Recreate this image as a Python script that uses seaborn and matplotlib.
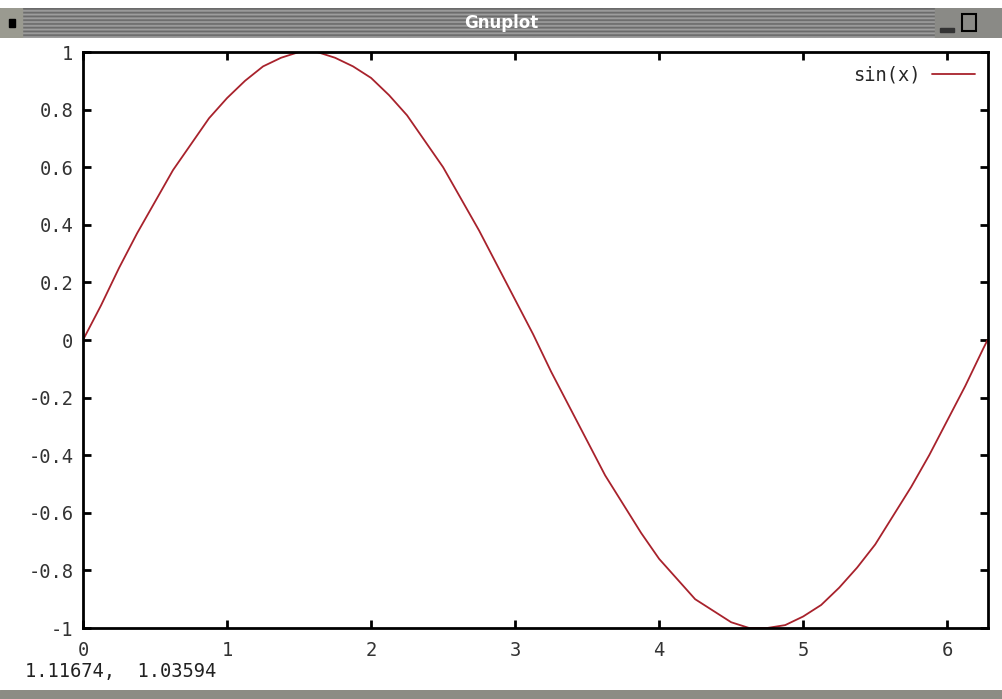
import numpy as np
import pandas as pd
import matplotlib
matplotlib.use("Agg")
import matplotlib.pyplot as plt
import seaborn as sns
from matplotlib.patches import Rectangle

# values
x_vals = [0.0, 0.125, 0.25, 0.375, 0.5, 0.625, 0.75, 0.875, 1.0, 1.125, 1.25, 1.375,
          1.5, 1.625, 1.75, 1.875, 2.0, 2.125, 2.25, 2.375, 2.5, 2.625, 2.75, 2.875,
          3.0, 3.125, 3.25, 3.375, 3.5, 3.625, 3.75, 3.875, 4.0, 4.125, 4.25, 4.375,
          4.5, 4.625, 4.75, 4.875, 5.0, 5.125, 5.25, 5.375, 5.5, 5.625, 5.75, 5.875,
          6.0, 6.125, 6.25, 6.28]
y_vals = [0.0, 0.12, 0.25, 0.37, 0.48, 0.59, 0.68, 0.77, 0.84, 0.9, 0.95, 0.98,
          1.0, 1.0, 0.98, 0.95, 0.91, 0.85, 0.78, 0.69, 0.6, 0.49, 0.38, 0.26,
          0.14, 0.02, -0.11, -0.23, -0.35, -0.47, -0.57, -0.67, -0.76, -0.83, -0.9, -0.94,
          -0.98, -1.0, -1.0, -0.99, -0.96, -0.92, -0.86, -0.79, -0.71, -0.61, -0.51, -0.4,
          -0.28, -0.16, -0.03, 0.0]
x_ticks = [0, 1, 2, 3, 4, 5, 6]
y_ticks = [-1, -0.8, -0.6, -0.4, -0.2, 0, 0.2, 0.4, 0.6, 0.8, 1]
y_tick_labels = ['-1', '-0.8', '-0.6', '-0.4', '-0.2', '0', '0.2', '0.4', '0.6', '0.8', '1']
series_name = 'sin(x)'
status_text = '1.11674,  1.03594'

df = pd.DataFrame({'x': x_vals, 'y': y_vals, 'series': series_name})

sns.set_style("ticks")
plt.rcParams['font.family'] = ['DejaVu Sans Mono']
plt.rcParams['axes.unicode_minus'] = False

W, H = 1003, 699
fig = plt.figure(figsize=(W / 100, H / 100), dpi=100)
fig.patch.set_facecolor('white')

# window title bar
bar = fig.add_axes([0, 1 - 38 / H, 1, 30 / H])
stripes = np.array([0.42, 0.62] * 8).reshape(-1, 1)
bar.imshow(stripes, cmap='gray', vmin=0, vmax=1, aspect='auto', extent=[0, 1, 0, 1])
bar.set_xlim(0, 1)
bar.set_ylim(0, 1)
bar.axis('off')
bar.add_patch(Rectangle((0, 0), 22 / W, 1, color='#9a9a90'))
bar.add_patch(Rectangle((9 / W, 0.38), 6 / W, 0.25, color='black'))
bar.add_patch(Rectangle((935 / W, 0), 68 / W, 1, color='#8a8a86'))
bar.add_patch(Rectangle((940 / W, 0.2), 14 / W, 0.15, color='#333333'))
bar.add_patch(Rectangle((962 / W, 0.25), 14 / W, 0.55, fill=False, ec='black', lw=1.5))
bar.text(0.5, 0.5, 'Gnuplot', color='white', fontsize=12, fontweight='bold',
         ha='center', va='center', family='DejaVu Sans Condensed')

# bottom status strip
strip = fig.add_axes([0, 0, 1, 9 / H])
strip.add_patch(Rectangle((0, 0), 1, 1, color='#8c8c84'))
strip.axis('off')
fig.text(25 / W, 1 - 672 / H, status_text, fontsize=13.5, va='center', ha='left',
         color='#222222')

ax = fig.add_axes([83 / W, 1 - 628 / H, 905 / W, 576 / H])
sns.lineplot(data=df, x='x', y='y', hue='series', palette=['#a8222c'],
             linewidth=1.3, ax=ax)

ax.set_xlim(0, 2 * np.pi)
ax.set_ylim(-1, 1)
ax.set_xticks(x_ticks)
ax.set_yticks(y_ticks)
ax.set_yticklabels(y_tick_labels)
ax.set_xlabel('')
ax.set_ylabel('')
for s in ax.spines.values():
    s.set_visible(True)
    s.set_linewidth(2)
    s.set_color('black')
ax.tick_params(direction='in', length=6, width=2, top=True, right=True,
               labelsize=13.5, colors='black', labelcolor='#333333')
ax.tick_params(axis='x', pad=9)
ax.tick_params(axis='y', pad=7)

leg = ax.legend(loc='upper right', frameon=False, markerfirst=False,
                fontsize=13.5, handlelength=2.3, handletextpad=0.6,
                borderaxespad=0.6, borderpad=0.1)

fig.savefig('out.png', dpi=100)
